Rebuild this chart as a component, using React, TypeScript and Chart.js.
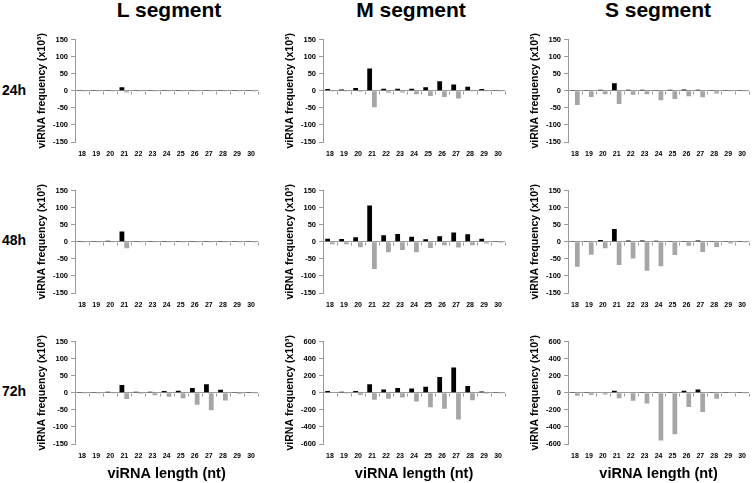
import React, { useEffect, useRef } from "react";
import { Chart, registerables } from "chart.js";

Chart.register(...registerables);

// ---------- data ----------
const lengths = ["18", "19", "20", "21", "22", "23", "24", "25", "26", "27", "28", "29", "30"];

const L24Sense = [1, 1, 2, 10, 1, 1, 1, 1, 2, 2, 1, 1, 1];
const L24Anti = [-1, -1, -1, -5, -1, -1, -1, -1, -1, -1, -1, -1, -1];
const M24Sense = [5, 4, 8, 65, 6, 6, 6, 10, 28, 18, 12, 5, 2];
const M24Anti = [-1, -1, -3, -48, -6, -5, -10, -15, -18, -23, -2, -1, -1];
const S24Sense = [2, 2, 3, 22, 3, 3, 2, 3, 4, 3, 2, 1, 1];
const S24Anti = [-42, -18, -10, -39, -12, -10, -28, -24, -16, -19, -8, -2, -1];

const L48Sense = [2, 1, 3, 30, 2, 1, 1, 1, 1, 2, 2, 1, 0.5];
const L48Anti = [-1, -1, -1, -19, -1, -1, -1, -1, -1, -1, -1, -1, -1];
const M48Sense = [9, 8, 13, 106, 19, 23, 15, 7, 16, 27, 22, 9, 2];
const M48Anti = [-7, -7, -16, -80, -31, -24, -31, -18, -10, -17, -10, -5, -3];
const S48Sense = [2, 2, 5, 37, 4, 4, 3, 2, 2, 4, 2, 1, 1];
const S48Anti = [-73, -38, -19, -68, -49, -85, -72, -39, -12, -30, -15, -5, -2];

const L72Sense = [1, 1, 3, 23, 3, 3, 5, 6, 14, 25, 9, 2, 1];
const L72Anti = [-1, -1, -2, -18, -3, -7, -12, -16, -35, -51, -23, -4, -1];
const M72Sense = [20, 12, 20, 100, 38, 55, 50, 70, 183, 297, 80, 15, 3];
const M72Anti = [-5, -10, -25, -82, -70, -57, -103, -170, -188, -312, -88, -12, -3];
const S72Sense = [3, 3, 5, 22, 5, 8, 8, 10, 22, 38, 8, 3, 2];
const S72Anti = [-35, -25, -20, -63, -94, -127, -558, -487, -168, -225, -70, -7, -3];

const segmentTitles = ["L segment", "M segment", "S segment"];
const timeLabels = ["24h", "48h", "72h"];
const yTitle = "viRNA frequency (x10³)";
const xTitle = "viRNA length (nt)";

// ---------- style ----------
const FONT = "'Liberation Sans', Arial, Helvetica, sans-serif";
const AXIS = "#9a9a9a";
const GRAY = "#a6a6a6";

const zeroTicks = {
  id: "zeroTicks",
  afterDatasetsDraw(chart: any) {
    const xs = chart.scales.x;
    const ys = chart.scales.y;
    const ctx = chart.ctx;
    const y0 = Math.round(ys.getPixelForValue(0)) + 0.5;
    ctx.save();
    ctx.strokeStyle = AXIS;
    ctx.lineWidth = 1;
    ctx.beginPath();
    const n = xs.ticks.length;
    for (let i = 0; i <= n; i++) {
      const px = Math.round(xs.getPixelForValue(i - 0.5)) + 0.5;
      ctx.moveTo(px, y0);
      ctx.lineTo(px, y0 + 3);
    }
    ctx.stroke();
    ctx.restore();
  },
};

type PanelProps = {
  sense: number[];
  anti: number[];
  yMax: number;
  yStep: number;
  left: number;
  top: number;
  width: number;
  height: number;
  xHeight: number;
  showXTitle: boolean;
};

function Panel(p: PanelProps) {
  const ref = useRef<HTMLCanvasElement | null>(null);
  useEffect(() => {
    if (!ref.current) return;
    const chart = new Chart(ref.current, {
      type: "bar",
      data: {
        labels: lengths,
        datasets: [
          {
            data: p.sense,
            backgroundColor: "#000000",
            borderWidth: 0,
            categoryPercentage: 0.68,
            barPercentage: 1,
          },
          {
            data: p.anti,
            backgroundColor: GRAY,
            borderWidth: 0,
            categoryPercentage: 0.68,
            barPercentage: 1,
          },
        ],
      },
      options: {
        animation: false,
        responsive: false,
        devicePixelRatio: 1,
        layout: { padding: 0 },
        plugins: { legend: { display: false }, tooltip: { enabled: false }, title: { display: false } },
        scales: {
          x: {
            offset: true,
            grid: { display: false, drawTicks: false },
            border: { display: false },
            ticks: {
              autoSkip: false,
              maxRotation: 0,
              padding: 8,
              color: "#000",
              font: { family: FONT, size: 7, weight: "bold" },
            },
            title: {
              display: p.showXTitle,
              text: xTitle,
              color: "#000",
              font: { family: FONT, size: 14.5, weight: "bold" },
              padding: { top: 0, bottom: 0 },
            },
            afterFit: (s: any) => {
              s.height = p.xHeight;
            },
          },
          y: {
            min: -p.yMax,
            max: p.yMax,
            ticks: {
              stepSize: p.yStep,
              padding: 3,
              color: "#000",
              font: { family: FONT, size: 7.5, weight: "bold" },
            },
            grid: {
              drawOnChartArea: true,
              drawTicks: true,
              tickLength: 4,
              tickColor: AXIS,
              color: (c: any) => (c.tick && c.tick.value === 0 ? AXIS : "rgba(0,0,0,0)"),
            },
            border: { display: true, color: AXIS },
            title: {
              display: true,
              text: yTitle,
              color: "#000",
              font: { family: FONT, size: 10.5, weight: "bold" },
              padding: { top: 9, bottom: 0 },
            },
            afterFit: (s: any) => {
              s.width = 48;
            },
          },
        },
      },
      plugins: [zeroTicks],
    } as any);
    return () => chart.destroy();
  }, []);
  return (
    <canvas
      ref={ref}
      width={p.width}
      height={p.height}
      style={{ position: "absolute", left: p.left, top: p.top, width: p.width, height: p.height }}
    />
  );
}

const colLeft = [27, 275, 520];
const colWidth = [236, 235, 234];
const rowTop = [32, 183, 334];
const rowHeight = [130, 130, 149];
const rowXHeight = [20, 20, 39];
const titleCenters = [169, 411, 658];
const rowLabelTops = [83, 233, 384];

const panelData = [
  [
    { sense: L24Sense, anti: L24Anti, yMax: 150, yStep: 50 },
    { sense: M24Sense, anti: M24Anti, yMax: 150, yStep: 50 },
    { sense: S24Sense, anti: S24Anti, yMax: 150, yStep: 50 },
  ],
  [
    { sense: L48Sense, anti: L48Anti, yMax: 150, yStep: 50 },
    { sense: M48Sense, anti: M48Anti, yMax: 150, yStep: 50 },
    { sense: S48Sense, anti: S48Anti, yMax: 150, yStep: 50 },
  ],
  [
    { sense: L72Sense, anti: L72Anti, yMax: 150, yStep: 50 },
    { sense: M72Sense, anti: M72Anti, yMax: 600, yStep: 200 },
    { sense: S72Sense, anti: S72Anti, yMax: 600, yStep: 200 },
  ],
];

export default function App() {
  return (
    <div
      style={{
        position: "absolute",
        left: 0,
        top: 0,
        width: 754,
        height: 483,
        overflow: "hidden",
        background: "#fff",
        fontFamily: FONT,
      }}
    >
      {segmentTitles.map((t, i) => (
        <div
          key={t}
          style={{
            position: "absolute",
            left: titleCenters[i] - 80,
            width: 160,
            top: -1,
            textAlign: "center",
            fontSize: 21,
            lineHeight: "21px",
            fontWeight: "bold",
            color: "#000",
          }}
        >
          {t}
        </div>
      ))}
      {timeLabels.map((t, i) => (
        <div
          key={t}
          style={{
            position: "absolute",
            left: 2,
            top: rowLabelTops[i],
            fontSize: 14,
            lineHeight: "14px",
            fontWeight: "bold",
            color: "#000",
          }}
        >
          {t}
        </div>
      ))}
      {panelData.map((row, r) =>
        row.map((d, c) => (
          <Panel
            key={`${r}-${c}`}
            sense={d.sense}
            anti={d.anti}
            yMax={d.yMax}
            yStep={d.yStep}
            left={colLeft[c]}
            top={rowTop[r]}
            width={colWidth[c]}
            height={rowHeight[r]}
            xHeight={rowXHeight[r]}
            showXTitle={r === 2}
          />
        ))
      )}
    </div>
  );
}
